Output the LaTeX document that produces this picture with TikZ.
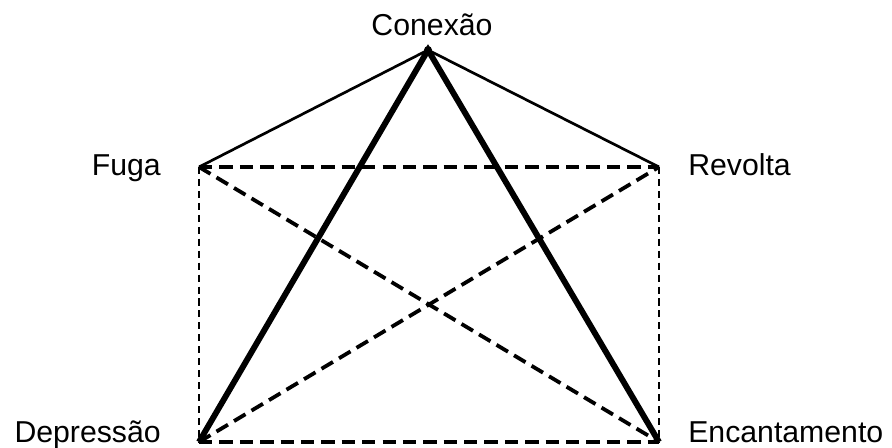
\documentclass[tikz,border=0pt]{standalone}
\usepackage{fontspec}
\setmainfont{Liberation Sans}
\usetikzlibrary{calc}

\begin{document}
\begin{tikzpicture}[x=0.025cm,y=-0.025cm,
lbl/.style={font=\fontsize{21.5}{24}\selectfont,inner sep=0pt},
pt/.style={inner sep=0pt,minimum size=0pt},
thin line/.style={line width=1.9pt},
thick line/.style={line width=4.2pt},
dash line/.style={line width=2.7pt,dash pattern=on 9.5pt off 5pt},
fine dash/.style={line width=1.4pt,dash pattern=on 5pt off 3.5pt}]
\useasboundingbox (0,0) rectangle (892,447);
\node[pt] (con) at (428,50) {};
\node[pt] (fug) at (199,167) {};
\node[pt] (rev) at (659,167) {};
\node[pt] (dep) at (199,442) {};
\node[pt] (enc) at (659,442) {};
\fill (con) circle (4);
\node[lbl,anchor=base] (tcon) at (432,35) {Conexão};
\node[lbl,anchor=base east] (tfug) at (161,175) {Fuga};
\node[lbl,anchor=base west] (trev) at (688,175) {Revolta};
\node[lbl,anchor=base east] (tdep) at (161,442) {Depressão};
\node[lbl,anchor=base west] (tenc) at (688,442) {Encantamento};
\draw[thin line] (fug.center)--(con.center)--(rev.center);
\draw[thick line] (dep.center)--(con.center)--(enc.center);
\draw[dash line] (fug.center)--(rev.center);
\draw[dash line] (dep.center)--(enc.center);
\draw[dash line] (fug.center)--(enc.center);
\draw[dash line] (dep.center)--(rev.center);
\draw[fine dash] (fug.center)--(dep.center);
\draw[fine dash] (rev.center)--(enc.center);
\end{tikzpicture}
\end{document}
